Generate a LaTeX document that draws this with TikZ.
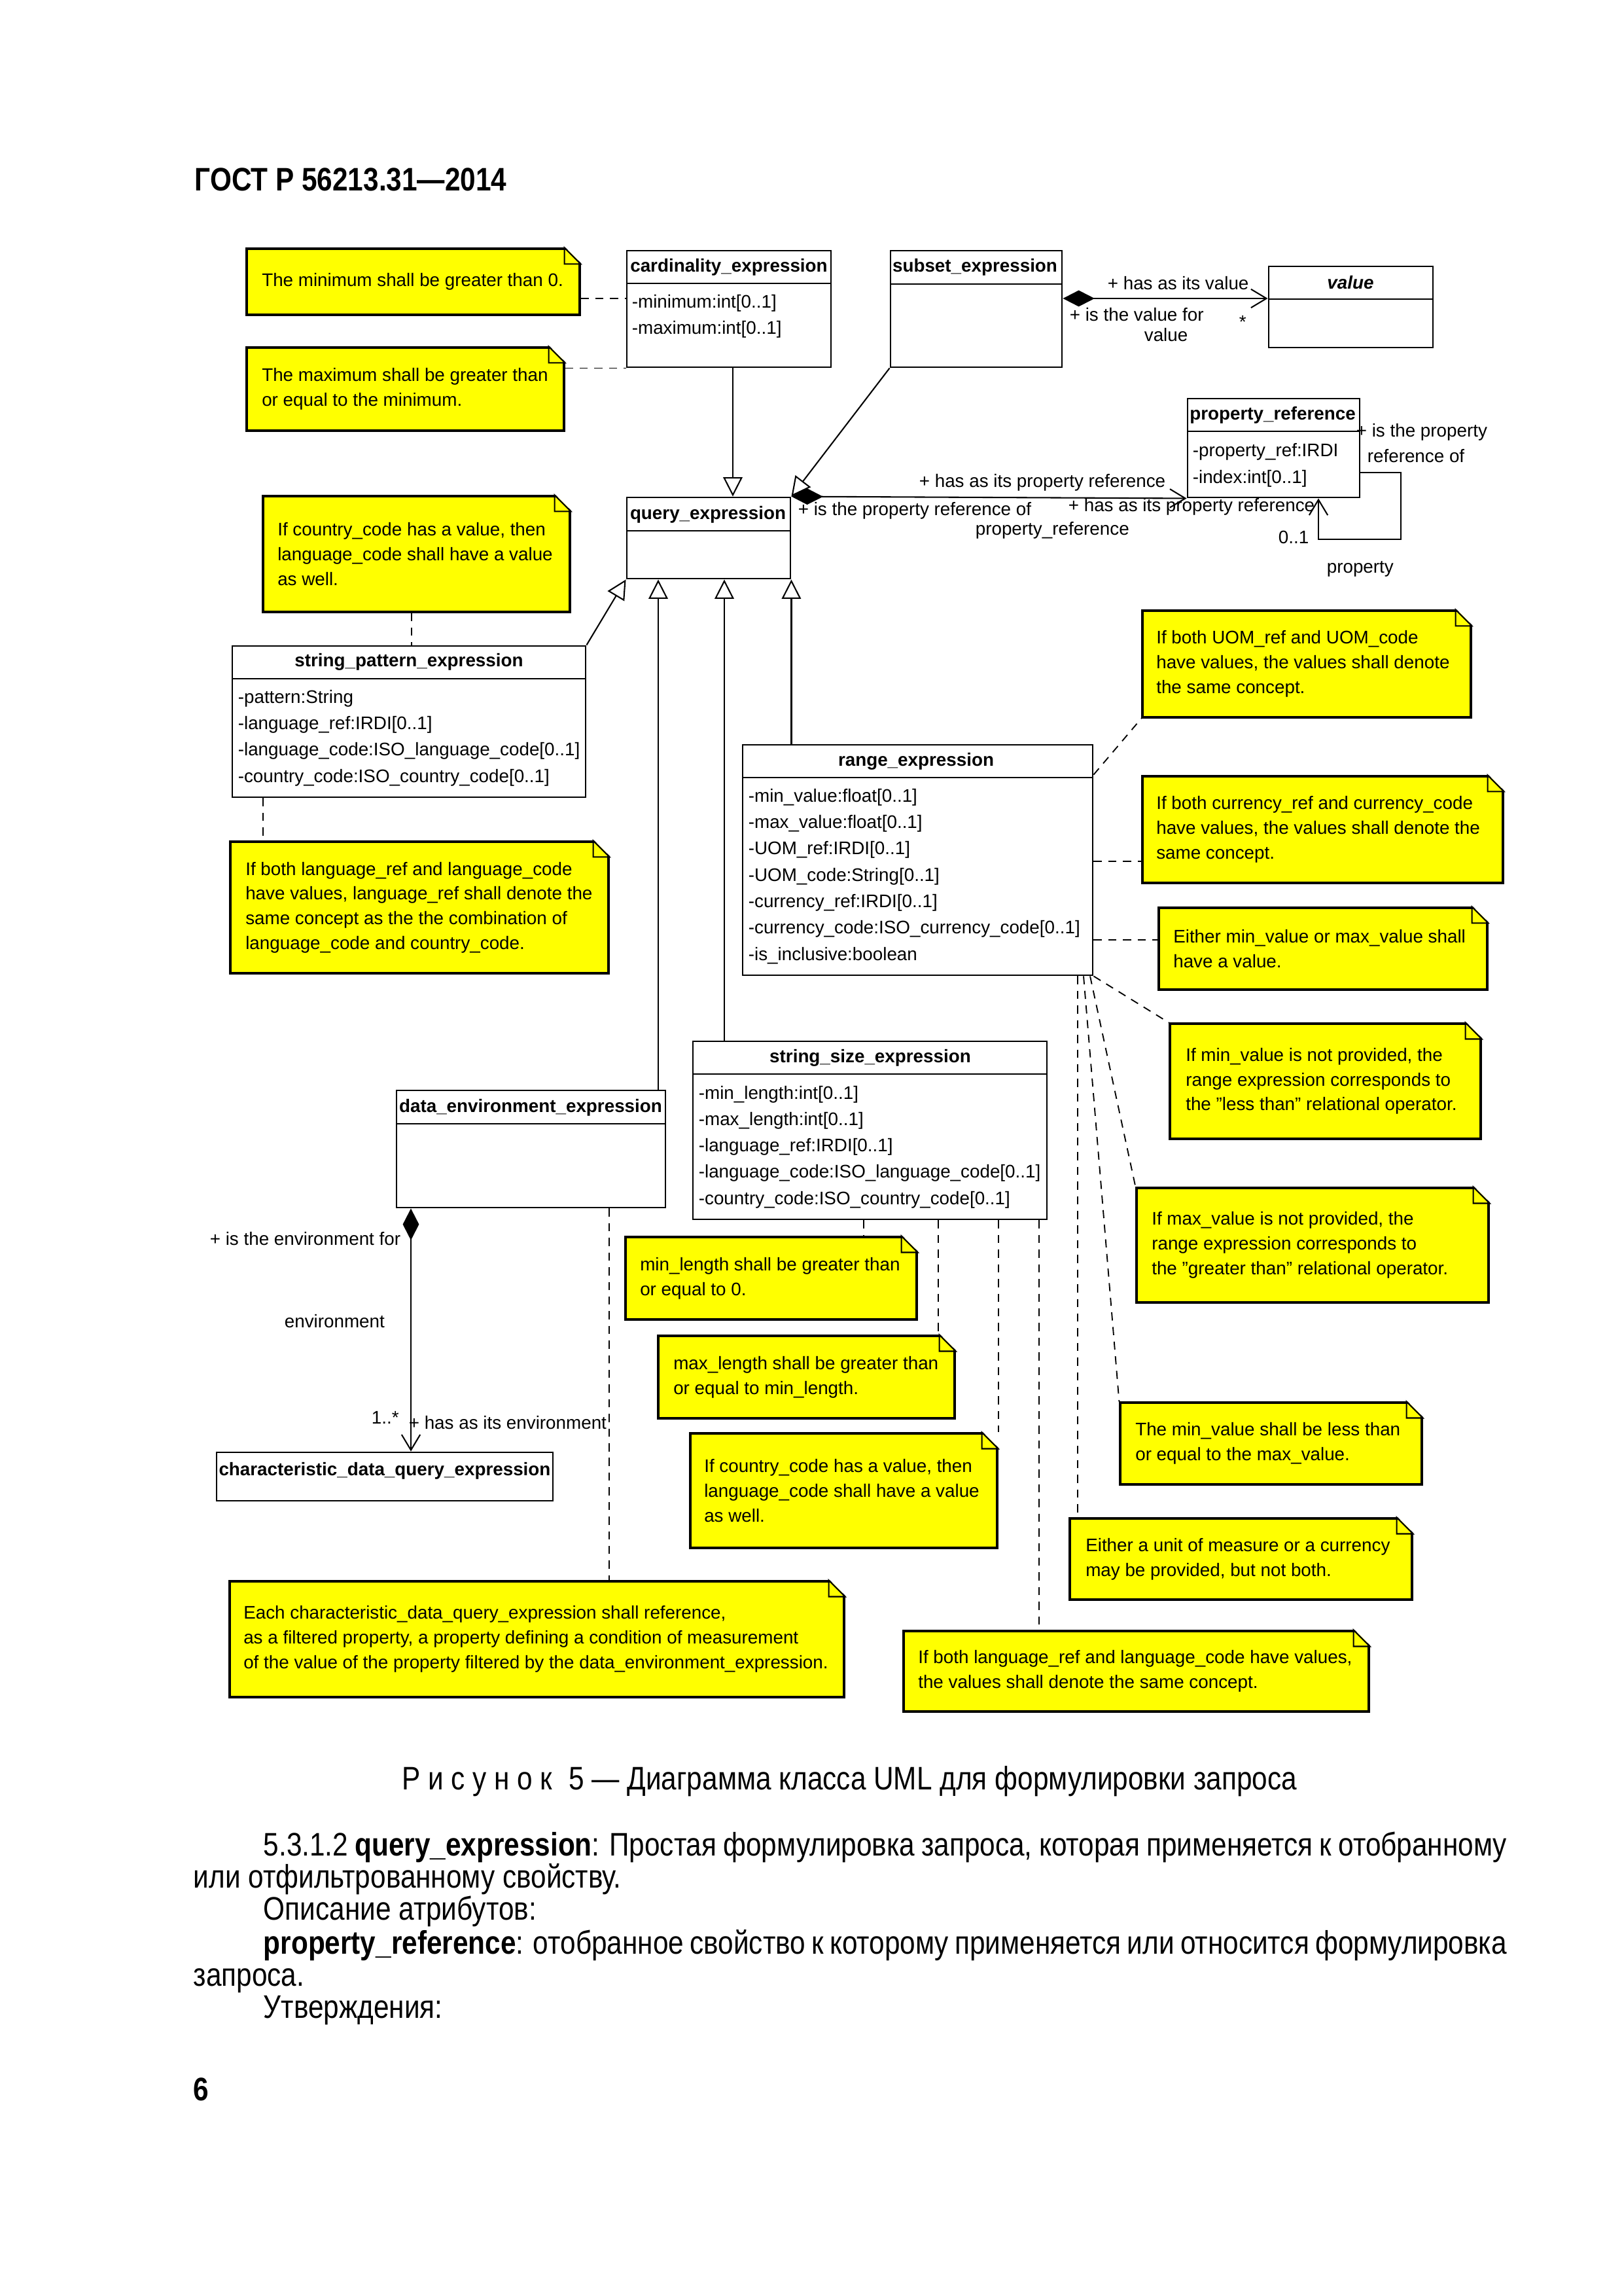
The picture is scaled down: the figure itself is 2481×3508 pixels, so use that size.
\documentclass[tikz,border=0pt]{standalone}
\usepackage{fontspec}
\setmainfont{Liberation Sans}
\newfontfamily\bodyfont[FakeStretch=0.85]{Liberation Sans}
\usetikzlibrary{arrows.meta,calc,fit}
\definecolor{notey}{HTML}{FFFF00}
\newcommand{\dgsize}{\fontsize{6.7}{9.1}\selectfont}

\tikzset{
  classbox/.style={draw, line width=0.7pt, fill=white, inner sep=0pt},
  notebox/.style={draw, line width=0.75pt, fill=notey, inner sep=0pt},
  cname/.style={font=\dgsize\bfseries, inner sep=0pt},
  attr/.style={font=\dgsize, inner sep=0pt, anchor=west},
  notetxt/.style={font=\dgsize, inner sep=0pt, anchor=west, align=left},
  role/.style={font=\dgsize, inner sep=0pt, anchor=west},
  bodytext/.style={font=\bodyfont\fontsize{12}{12}\selectfont, inner sep=0pt, anchor=base west},
  gen/.style={line width=0.5pt, -{Triangle[open, length=0.25cm, width=0.25cm]}},
  assoc/.style={line width=0.5pt, {Diamond[length=0.41cm, width=0.21cm]}-{Straight Barb[length=0.2cm, width=0.24cm]}},
  nav/.style={line width=0.5pt, -{Straight Barb[length=0.2cm, width=0.24cm]}},
  anchorln/.style={line width=0.45pt, dash pattern=on 3pt off 2.4pt},
  fold/.style={line width=0.5pt}
}

\begin{document}
\begin{tikzpicture}[x=0.0084667cm, y=-0.0084667cm]
  \fill[white] (0,0) rectangle (2481,3508);
  \useasboundingbox (0,0) rectangle (2481,3508);

  % page head
  \node[bodytext] (gost) at (297,291) {\bfseries ГОСТ Р 56213.31—2014};

  % classes
  \node[classbox, fit={(958,383) (1270,561)}] (card) {};
  \draw[line width=0.7pt] (958,433) -- (1270,433);
  \node[cname] at (1114,408) {cardinality\_expression};
  \node[attr] at (965,463) {-minimum:int[0..1]};
  \node[attr] at (965,503) {-maximum:int[0..1]};

  \node[classbox, fit={(1361,383) (1623,561)}] (subset) {};
  \draw[line width=0.7pt] (1361,434) -- (1623,434);
  \node[cname] at (1490,408) {subset\_expression};

  \node[classbox, fit={(1939,407) (2190,531)}] (value) {};
  \draw[line width=0.7pt] (1939,457) -- (2190,457);
  \node[cname] at (2064,432) {\itshape value};

  \node[classbox, fit={(1815,609) (2078,760)}] (propref) {};
  \draw[line width=0.7pt] (1815,659) -- (2078,659);
  \node[cname] at (1945,634) {property\_reference};
  \node[attr] at (1822,690) {-property\_ref:IRDI};
  \node[attr] at (1822,731) {-index:int[0..1]};

  \node[classbox, fit={(958,760) (1208,884)}] (query) {};
  \draw[line width=0.7pt] (958,811) -- (1208,811);
  \node[cname] at (1082,786) {query\_expression};

  \node[classbox, fit={(355,987) (895,1218)}] (spe) {};
  \draw[line width=0.7pt] (355,1037) -- (895,1037);
  \node[cname] at (625,1011) {string\_pattern\_expression};
  \foreach \a [count=\i from 0] in {-pattern:String, -language\_ref:IRDI[0..1],
      -language\_code:ISO\_language\_code[0..1], -country\_code:ISO\_country\_code[0..1]}
    \node[attr] at (363,{1067+40.3*\i}) {\a};

  \node[classbox, fit={(1135,1138) (1670,1490)}] (range) {};
  \draw[line width=0.7pt] (1135,1188) -- (1670,1188);
  \node[cname] at (1400,1163) {range\_expression};
  \foreach \a [count=\i from 0] in {-min\_value:float[0..1], -max\_value:float[0..1],
      -UOM\_ref:IRDI[0..1], -UOM\_code:String[0..1], -currency\_ref:IRDI[0..1],
      -currency\_code:ISO\_currency\_code[0..1], -is\_inclusive:boolean}
    \node[attr] at (1143,{1218+40.3*\i}) {\a};

  \node[classbox, fit={(1059,1591) (1600,1863)}] (sse) {};
  \draw[line width=0.7pt] (1059,1641) -- (1600,1641);
  \node[cname] at (1330,1616) {string\_size\_expression};
  \foreach \a [count=\i from 0] in {-min\_length:int[0..1], -max\_length:int[0..1],
      -language\_ref:IRDI[0..1], -language\_code:ISO\_language\_code[0..1],
      -country\_code:ISO\_country\_code[0..1]}
    \node[attr] at (1067,{1672+40.2*\i}) {\a};

  \node[classbox, fit={(606,1666) (1017,1845)}] (dee) {};
  \draw[line width=0.7pt] (606,1717) -- (1017,1717);
  \node[cname] at (811,1692) {data\_environment\_expression};

  \node[classbox, fit={(331,2219) (845,2293)}] (cdqe) {};
  \node[cname] at (588,2247) {characteristic\_data\_query\_expression};

  % notes
  \node[notebox, fit={(377,380) (886,481)}] (nMin) {};
  \node[notetxt] at ($(nMin.west)+(24,0)$) {The minimum shall be greater than 0.};
  \node[notebox, fit={(377,531) (862,658)}] (nMax) {};
  \node[notetxt] at ($(nMax.west)+(24,0)$) {The maximum shall be greater than\\or equal to the minimum.};
  \node[notebox, fit={(402,758) (871,935)}] (nCC1) {};
  \node[notetxt] at ($(nCC1.west)+(23,0)$) {If country\_code has a value, then\\language\_code shall have a value\\as well.};
  \node[notebox, fit={(352,1286) (930,1487)}] (nLang1) {};
  \node[notetxt] at ($(nLang1.west)+(24,0)$) {If both language\_ref and language\_code\\have values, language\_ref shall denote the\\same concept as the the combination of\\language\_code and country\_code.};
  \node[notebox, fit={(1746,933) (2248,1096)}] (nUOM) {};
  \node[notetxt] at ($(nUOM.west)+(22,0)$) {If both UOM\_ref and UOM\_code\\have values, the values shall denote\\the same concept.};
  \node[notebox, fit={(1746,1186) (2297,1349)}] (nCur) {};
  \node[notetxt] at ($(nCur.west)+(22,0)$) {If both currency\_ref and currency\_code\\have values, the values shall denote the\\same concept.};
  \node[notebox, fit={(1771,1387) (2273,1512)}] (nEither) {};
  \node[notetxt] at ($(nEither.west)+(23,0)$) {Either min\_value or max\_value shall\\have a value.};
  \node[notebox, fit={(1788,1564) (2263,1740)}] (nMinNP) {};
  \node[notetxt] at ($(nMinNP.west)+(25,0)$) {If min\_value is not provided, the\\range expression corresponds to\\the "less than" relational operator.};
  \node[notebox, fit={(1737,1815) (2275,1990)}] (nMaxNP) {};
  \node[notetxt] at ($(nMaxNP.west)+(24,0)$) {If max\_value is not provided, the\\range expression corresponds to\\the "greater than" relational operator.};
  \node[notebox, fit={(1712,2143) (2173,2268)}] (nLess) {};
  \node[notetxt] at ($(nLess.west)+(24,0)$) {The min\_value shall be less than\\or equal to the max\_value.};
  \node[notebox, fit={(1635,2320) (2158,2444)}] (nUnit) {};
  \node[notetxt] at ($(nUnit.west)+(25,0)$) {Either a unit of measure or a currency\\may be provided, but not both.};
  \node[notebox, fit={(1381,2492) (2092,2615)}] (nLang2) {};
  \node[notetxt] at ($(nLang2.west)+(23,0)$) {If both language\_ref and language\_code have values,\\the values shall denote the same concept.};
  \node[notebox, fit={(351,2416) (1290,2593)}] (nEach) {};
  \node[notetxt] at ($(nEach.west)+(22,0)$) {Each characteristic\_data\_query\_expression shall reference,\\as a filtered property, a property defining a condition of measurement\\of the value of the property filtered by the data\_environment\_expression.};
  \node[notebox, fit={(1055,2190) (1524,2365)}] (nCC2) {};
  \node[notetxt] at ($(nCC2.west)+(22,0)$) {If country\_code has a value, then\\language\_code shall have a value\\as well.};
  \node[notebox, fit={(1006,2041) (1459,2167)}] (nMaxLen) {};
  \node[notetxt] at ($(nMaxLen.west)+(24,0)$) {max\_length shall be greater than\\or equal to min\_length.};
  \node[notebox, fit={(956,1890) (1401,2016)}] (nMinLen) {};
  \node[notetxt] at ($(nMinLen.west)+(23,0)$) {min\_length shall be greater than\\or equal to 0.};

  % folded corners
  \foreach \n in {nMin,nMax,nCC1,nLang1,nUOM,nCur,nEither,nMinNP,nMaxNP,nLess,nUnit,nLang2,nEach,nCC2,nMaxLen,nMinLen}{
    \fill[white] ($(\n.north east)+(-26,-3)$) -- ($(\n.north east)+(3,-3)$) -- ($(\n.north east)+(3,26)$) -- cycle;
    \draw[fold] ($(\n.north east)+(-25,0)$) -- ($(\n.north east)+(0,25)$) -- ($(\n.north east)+(-25,25)$) -- cycle;
  }

  % generalisations
  \draw[gen] (card.south -| 1120,0) -- (query.north -| 1120,0);
  \draw[gen] (subset.south west) -- (query.north east);
  \draw[gen] (spe.north east) -- (query.south west);
  \draw[gen] (dee.north -| 1006,0) -- (query.south -| 1006,0);
  \draw[gen] (sse.north -| 1107,0) -- (query.south -| 1107,0);
  \draw[gen] (range.north -| query.south east) -- (query.south east);

  % associations
  \draw[assoc] (subset.east |- 0,456) -- (value.west |- 0,456);
  \draw[assoc] (query.north east) -- (propref.south west);
  \draw[nav] (propref.east |- 0,722) -| (2141,824) -| (propref.south -| 2015,0);
  \draw[assoc] (dee.south -| 628,0) -- (cdqe.north -| 628,0);

  \node[role] at (1692,433) {+ has as its value};
  \node[role] at (1634,481) {+ is the value for};
  \node[role] at (1748,512) {value};
  \node[role] at (1893,492) {*};
  \node[role] at (1404,737) {+ has as its property reference};
  \node[role] at (1219,780) {+ is the property reference of};
  \node[role] at (1490,810) {property\_reference};
  \node[role] at (1632,774) {+ has as its property reference};
  \node[role] at (2072,660) {+ is the property};
  \node[role] at (2089,697) {reference of};
  \node[role] at (1953,821) {0..1};
  \node[role] at (2027,869) {property};
  \node[role] at (320,1893) {+ is the environment for};
  \node[role] at (434,2019) {environment};
  \node[role] at (567,2166) {1..*};
  \node[role] at (624,2174) {+ has as its environment};

  % note anchors
  \draw[anchorln] (nMin.east |- 0,456) -- (card.west |- 0,456);
  \draw[anchorln] (nMax.north east |- card.south west) -- (card.south west);
  \draw[anchorln] (nCC1.south -| 629,0) -- (spe.north -| 629,0);
  \draw[anchorln] (spe.south -| 402,0) -- (nLang1.north -| 402,0);
  \draw[anchorln] ($(range.north east)+(0,47)$) -- (nUOM.south west);
  \draw[anchorln] (range.east |- 0,1316) -- (nCur.west |- 0,1316);
  \draw[anchorln] (range.east |- 0,1436) -- (nEither.west |- 0,1436);
  \draw[anchorln] (range.south east) -- (nMinNP.north west);
  \draw[anchorln] (range.south -| 1666,0) -- (nMaxNP.north west);
  \draw[anchorln] (range.south -| 1656,0) -- (nLess.north west);
  \draw[anchorln] (range.south -| 1647,0) -- (nUnit.north -| 1647,0);
  \draw[anchorln] (sse.south -| 1320,0) -- (nMinLen.north -| 1320,0);
  \draw[anchorln] (sse.south -| 1434,0) -- (nMaxLen.north -| 1434,0);
  \draw[anchorln] (sse.south -| nCC2.north east) -- (nCC2.north east);
  \draw[anchorln] (sse.south -| 1588,0) -- (nLang2.north -| 1588,0);
  \draw[anchorln] (dee.south -| 931,0) -- (nEach.north -| 931,0);

  % caption and text
  \node[bodytext, anchor=base] (cap) at (1298,2734) {Р и с у н о к\hspace{6pt}5 — Диаграмма класса UML для формулировки запроса};
  \node[bodytext] (p1) at (402,2835) {\makebox[16.09cm][s]{5.3.1.2 \textbf{query\_expression}: Простая формулировка запроса, которая применяется к отобранному}};
  \node[bodytext] (p2) at (295,2884) {или отфильтрованному свойству.};
  \node[bodytext] (p3) at (402,2933) {Описание атрибутов:};
  \node[bodytext] (p4) at (402,2985) {\makebox[16.09cm][s]{\textbf{property\_reference}: отобранное свойство к которому применяется или относится формулировка}};
  \node[bodytext] (p5) at (295,3034) {запроса.};
  \node[bodytext] (p6) at (402,3083) {Утверждения:};
  \node[bodytext] (pg) at (295,3209) {\bfseries 6};
\end{tikzpicture}
\end{document}
